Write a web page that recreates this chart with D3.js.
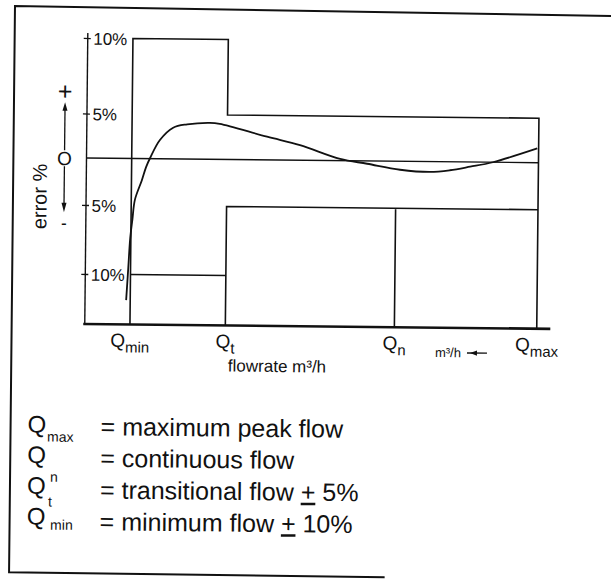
<!DOCTYPE html>
<html><head><meta charset="utf-8">
<script src="https://cdn.jsdelivr.net/npm/d3@7"></script>
<style>
html,body{margin:0;padding:0;background:#fff;}
svg{display:block;}
text{font-family:"Liberation Sans",Arial,Helvetica,sans-serif;fill:#111;}
</style>
</head><body>
<svg id="chart" width="611" height="579"></svg>
<script>
// ---- data ----
const flowSubs = ["min", "t", "n", "max"];          // Q subscripts on the flow axis
const flowValues = [1.0, 3.11, 6.85, 10];            // notional flow positions
const yTickValues = [10, 5, -5, -10];                // error % ticks
const bandUpper = [10, 5];                           // +tolerance: Qmin–Qt, Qt–Qmax
const bandLower = [-10, -5];                         // -tolerance: Qmin–Qt, Qt–Qmax
const curveFlow  = [0.91, 0.95, 0.985, 1.03, 1.08, 1.23, 1.32, 1.41, 1.62, 1.91, 2.22, 2.72, 2.94, 3.99, 4.72, 5.61, 6.21, 6.94, 7.60, 8.04, 8.49, 8.99, 9.97];
const curveError = [-11.8, -9.5, -7.4, -6.0, -4.4, -2.3, -0.9, 0.1, 2.1, 3.5, 3.9, 4.1, 4.0, 2.6, 1.7, 0.2, -0.3, -0.9, -1.1, -0.9, -0.5, 0.0, 1.6];
const legendSubs = ["max", "n", "t", "min"];
const legendDesc = ["maximum peak flow", "continuous flow", "transitional flow", "minimum flow"];
const legendTol  = [null, null, "5%", "10%"];

// ---- drawing ----
const svg = d3.select("#chart");
svg.append("rect").attr("width", 611).attr("height", 579).attr("fill", "#fff");
const g = svg.append("g").attr("transform", "rotate(0.6,87,158)");
const ink = "#111";

const x = d3.scaleLinear().domain([0, 10]).range([86.5, 538.5]);
const y = d3.scaleLinear().domain([-13.5, -10, -5, 0, 5, 10]).range([324, 274, 205, 158, 113.5, 38]);
const yBase = y(-13.5);

// frame
g.append("path")
  .attr("d", "M630,10.7 L13.4,6.8 L13.4,573 L389,574")
  .attr("fill", "none").attr("stroke", ink).attr("stroke-width", 2);

// y axis line
g.append("line").attr("x1", x(0)).attr("x2", x(0)).attr("y1", y(10) - 5).attr("y2", yBase)
  .attr("stroke", ink).attr("stroke-width", 1.4);

// y axis ticks and labels
const yAxis = d3.axisLeft(y).tickValues(yTickValues).tickSize(4).tickFormat(d => Math.abs(d) + "%");
const ya = g.append("g").attr("transform", `translate(${x(0)},0)`).call(yAxis);
ya.select(".domain").remove();
ya.selectAll(".tick line").attr("x1", 3).attr("stroke", ink).attr("stroke-width", 1.3);
ya.selectAll(".tick text").attr("x", 5.5).attr("dy", "0.36em").attr("text-anchor", "start")
  .attr("font-size", 17).attr("fill", ink);
ya.attr("font-family", null).attr("font-size", null);

// x axis line
g.append("line").attr("x1", x(0) - 1.5).attr("x2", x(10.3)).attr("y1", yBase).attr("y2", yBase)
  .attr("stroke", ink).attr("stroke-width", 2.6);

// zero line
g.append("line").attr("x1", x(0)).attr("x2", x(flowValues[3])).attr("y1", y(0)).attr("y2", y(0))
  .attr("stroke", ink).attr("stroke-width", 1.3);

// tolerance envelope
const [qMin, qT, qN, qMax] = flowValues;
const upper = d3.path();
upper.moveTo(x(qMin), yBase);
upper.lineTo(x(qMin), y(bandUpper[0]));
upper.lineTo(x(qT), y(bandUpper[0]));
upper.lineTo(x(qT), y(bandUpper[1]));
upper.lineTo(x(qMax), y(bandUpper[1]));
upper.lineTo(x(qMax), yBase);
const lower = d3.path();
lower.moveTo(x(qMin), y(bandLower[0]));
lower.lineTo(x(qT), y(bandLower[0]));
lower.moveTo(x(qT), yBase);
lower.lineTo(x(qT), y(bandLower[1]));
lower.lineTo(x(qMax), y(bandLower[1]));
lower.moveTo(x(qN), y(bandLower[1]));
lower.lineTo(x(qN), yBase);
g.append("path").attr("d", upper.toString()).attr("fill", "none").attr("stroke", ink).attr("stroke-width", 1.6);
g.append("path").attr("d", lower.toString()).attr("fill", "none").attr("stroke", ink).attr("stroke-width", 1.6);

// error curve
const pts = curveFlow.map((f, i) => [f, curveError[i]]);
const line = d3.line().x(d => x(d[0])).y(d => y(d[1])).curve(d3.curveCatmullRom.alpha(0.5));
g.append("path").attr("d", line(pts)).attr("fill", "none").attr("stroke", ink).attr("stroke-width", 1.8);

// flow labels on x axis
const xl = g.append("g");
flowValues.forEach((v, i) => {
  const t = xl.append("text").attr("x", x(v)).attr("y", 346.5).attr("text-anchor", "middle");
  t.append("tspan").attr("font-size", 19).text("Q");
  t.append("tspan").attr("font-size", 15).attr("dy", 5.5).text(flowSubs[i]);
});
g.append("text").attr("x", x(qT) + 3).attr("y", 370).attr("font-size", 17).text("flowrate m³/h");
g.append("text").attr("x", 437).attr("y", 353.3).attr("font-size", 13).text("m³/h");
g.append("line").attr("x1", 469).attr("x2", 489).attr("y1", 349).attr("y2", 349).attr("stroke", ink).attr("stroke-width", 1.3);
g.append("path").attr("d", "M472,349 L479,346.3 L479,351.7 Z").attr("fill", ink);

// y axis annotation
g.append("text").attr("transform", "translate(47,197) rotate(-90)").attr("text-anchor", "middle")
  .attr("font-size", 20).text("error %");
g.append("text").attr("x", 64.5).attr("y", 100).attr("text-anchor", "middle").attr("font-size", 25).text("+");
g.append("text").attr("x", 64.5).attr("y", 165.3).attr("text-anchor", "middle").attr("font-size", 19).text("O");
g.append("text").attr("x", 64.5).attr("y", 229).attr("text-anchor", "middle").attr("font-size", 17).text("-");
g.append("line").attr("x1", 64.5).attr("x2", 64.5).attr("y1", 150.5).attr("y2", 108).attr("stroke", ink).attr("stroke-width", 1.3);
g.append("path").attr("d", "M64.5,102.5 L62,111 L67,111 Z").attr("fill", ink);
g.append("line").attr("x1", 64.5).attr("x2", 64.5).attr("y1", 166.5).attr("y2", 207).attr("stroke", ink).attr("stroke-width", 1.3);
g.append("path").attr("d", "M64.5,212.5 L62,203 L67,203 Z").attr("fill", ink);

// legend
const subPos = [[50, 442], [53.4, 482], [51.7, 507], [54, 530]];
const lg = g.append("g");
legendSubs.forEach((s, i) => {
  lg.append("text").attr("x", 30.5).attr("y", 433 + i * 30.7).attr("font-size", 24).text("Q");
  lg.append("text").attr("x", subPos[i][0]).attr("y", subPos[i][1]).attr("font-size", 14).text(s);
  const t = lg.append("text").attr("x", 103.5).attr("y", 435 + i * 31.7).attr("font-size", 25);
  t.append("tspan").text("= " + legendDesc[i] + (legendTol[i] ? " " : ""));
  if (legendTol[i]) {
    t.append("tspan").attr("text-decoration", "underline").text("+");
    t.append("tspan").text(" " + legendTol[i]);
  }
});
</script>
</body></html>
